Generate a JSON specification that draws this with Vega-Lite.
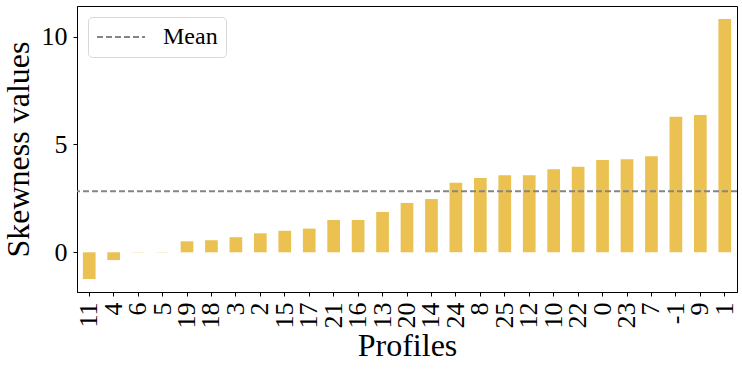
{
  "$schema": "https://vega.github.io/schema/vega-lite/v6.json",
  "width": 660,
  "height": 286,
  "autosize": {"type": "none"},
  "padding": {"left": 77, "top": 6, "right": 5, "bottom": 77},
  "background": "white",
  "datasets": {
    "skew": [
      {"profile": "11", "value": -1.24},
      {"profile": "4", "value": -0.36},
      {"profile": "6", "value": 0.01},
      {"profile": "5", "value": 0.01},
      {"profile": "19", "value": 0.51},
      {"profile": "18", "value": 0.56},
      {"profile": "3", "value": 0.70},
      {"profile": "2", "value": 0.88},
      {"profile": "15", "value": 1.00},
      {"profile": "17", "value": 1.10},
      {"profile": "21", "value": 1.50},
      {"profile": "16", "value": 1.50},
      {"profile": "13", "value": 1.87},
      {"profile": "20", "value": 2.29},
      {"profile": "14", "value": 2.47},
      {"profile": "24", "value": 3.23},
      {"profile": "8", "value": 3.45},
      {"profile": "25", "value": 3.57},
      {"profile": "12", "value": 3.57},
      {"profile": "10", "value": 3.85},
      {"profile": "22", "value": 3.97},
      {"profile": "0", "value": 4.28},
      {"profile": "23", "value": 4.31},
      {"profile": "7", "value": 4.45},
      {"profile": "-1", "value": 6.28},
      {"profile": "9", "value": 6.37},
      {"profile": "1", "value": 10.82}
    ],
    "meanline": [{"label": "Mean", "mean": 2.83}]
  },
  "config": {
    "font": "Liberation Serif",
    "view": {"stroke": "#000", "strokeWidth": 1},
    "axis": {
      "labelFont": "Liberation Serif",
      "titleFont": "Liberation Serif",
      "labelFontSize": 26,
      "titleFontSize": 32,
      "titleFontWeight": "normal",
      "labelColor": "#000",
      "titleColor": "#000",
      "tickColor": "#000",
      "domainColor": "#000",
      "tickSize": 4,
      "labelPadding": 6,
      "grid": false
    },
    "legend": {
      "labelFont": "Liberation Serif",
      "labelFontSize": 24,
      "labelColor": "#000"
    }
  },
  "layer": [
    {
      "data": {"name": "skew"},
      "mark": {"type": "bar", "color": "#EBC152"},
      "encoding": {
        "x": {
          "field": "profile",
          "type": "nominal",
          "sort": null,
          "scale": {"paddingInner": 0.48, "paddingOuter": 0.24},
          "axis": {"title": "Profiles", "labelAngle": -90, "titlePadding": 2}
        },
        "y": {
          "field": "value",
          "type": "quantitative",
          "scale": {"domain": [-1.84, 11.42], "nice": false, "zero": false},
          "axis": {"title": "Skewness values", "values": [0, 5, 10], "titlePadding": 6}
        }
      }
    },
    {
      "data": {"name": "meanline"},
      "mark": {"type": "rule", "color": "#858585", "strokeWidth": 1.8},
      "encoding": {
        "y": {"field": "mean", "type": "quantitative"},
        "strokeDash": {
          "field": "label",
          "type": "nominal",
          "scale": {"range": [[6, 3]]},
          "legend": {
            "title": null,
            "orient": "top-left",
            "offset": 11,
            "padding": 8,
            "strokeColor": "#d8d8d8",
            "fillColor": "white",
            "cornerRadius": 4,
            "symbolType": "M-4,0L4,0",
            "symbolSize": 144,
            "symbolOffset": 13,
            "symbolStrokeColor": "#858585",
            "symbolStrokeWidth": 1.8,
            "labelOffset": 30
          }
        }
      }
    }
  ]
}
